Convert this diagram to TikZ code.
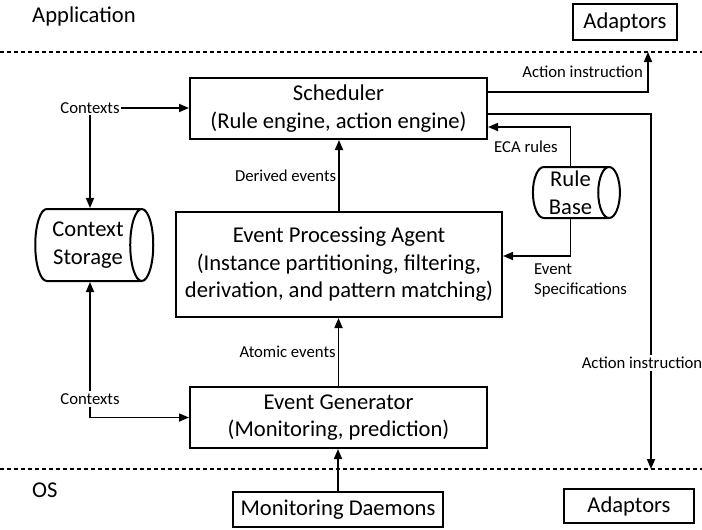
\documentclass[tikz,border=0pt]{standalone}
\usepackage{fontspec}
\setmainfont{Carlito}
\usetikzlibrary{arrows.meta,shapes.geometric}

\newcommand{\bigtxt}{\fontsize{22.6}{27.5}\selectfont}
\newcommand{\smalltxt}{\fontsize{16.7}{20}\selectfont}

\begin{document}
\begin{tikzpicture}[x=1pt,y=1pt]
              \tikzstyle{every node}+=[inner sep=0pt]
              \tikzstyle{blk}=[draw=black,line width=2pt,align=center,font=\bigtxt]
              \tikzstyle{drum}=[cylinder,draw=black,line width=2pt,aspect=0.5,align=center,font=\bigtxt]
              \tikzstyle{lbl}=[font=\smalltxt,inner sep=2pt]
              \tikzstyle{arr}=[black,line width=1.7pt,-{Triangle[length=10pt,width=8pt]}]
              \tikzstyle{layerline}=[black,line width=1.6pt,dash pattern=on 4pt off 3pt]
              \useasboundingbox (0,0) rectangle (702,-530);
              \node [font=\bigtxt,anchor=west] (app) at (32,-16) {Application};
              \node [font=\bigtxt,anchor=west] (os) at (32,-490) {OS};
              \node [blk,minimum width=104,minimum height=36] (adtop) at (625,-22) {Adaptors};
              \node [blk,minimum width=130,minimum height=34] (adbot) at (629,-506) {Adaptors};
              \node [blk,minimum width=297,minimum height=61] (sched) at (338.5,-108.5) {Scheduler\\(Rule engine, action engine)};
              \node [blk,minimum width=326,minimum height=105] (epa) at (339,-264.5) {Event Processing Agent\\(Instance partitioning, filtering,\\derivation, and pattern matching)};
              \node [blk,minimum width=297,minimum height=61] (gen) at (338.5,-417.5) {Event Generator\\(Monitoring, prediction)};
              \node [blk,minimum width=210,minimum height=35] (daemon) at (338,-509.5) {Monitoring Daemons};
              \node [drum,minimum height=118,minimum width=72] (ctx) at (88,-245) {Context\\Storage};
              \node [drum,minimum height=87,minimum width=51] (rules) at (570.5,-192.5) {Rule\\Base};
              \draw [layerline] (0,-52) -- (702,-52);
              \draw [layerline] (0,-469) -- (702,-469);
              \coordinate (uptip) at (648,-52);
              \coordinate (downtip) at (651,-469);
              \node [lbl,inner sep=1pt] (ctxtop) at (90,-108) {Contexts};
              \node [lbl] (ctxbot) at (90,-399) {Contexts};
              \draw [arr] (ctxtop.east) -- (ctxtop.east -| sched.west);
              \draw [arr] (ctxtop.south) -- (ctxtop.south |- ctx.north);
              \draw [arr] (ctxbot.north) -- (ctxbot.north |- ctx.south);
              \draw [arr] (ctxbot.south) |- (gen.west);
              \draw [arr] (epa.north) -- node [lbl,left] {Derived events} (epa.north |- sched.south);
              \draw [arr] (gen.north) -- node [lbl,left] {Atomic events} (gen.north |- epa.south);
              \draw [arr] (daemon.north) -- (daemon.north |- gen.south);
              \draw [arr] (rules.north) |- ([yshift=-18.5]sched.east);
              \node [lbl] (eca) at (526,-147) {ECA rules};
              \draw [arr] (rules.south) |- ([yshift=8.5]epa.east);
              \node [lbl,anchor=north west,align=left] (espec) at (532,-262) {Event\\Specifications};
              \draw [arr] ([yshift=16.5]sched.east) -| (uptip);
              \node [lbl,anchor=east] (act1) at (645,-72) {Action instruction};
              \draw [arr] ([yshift=-5.5]sched.east) -| (downtip);
              \node [lbl,fill=white] (act2) at (642,-363) {Action instruction};
            \end{tikzpicture}
\end{document}
